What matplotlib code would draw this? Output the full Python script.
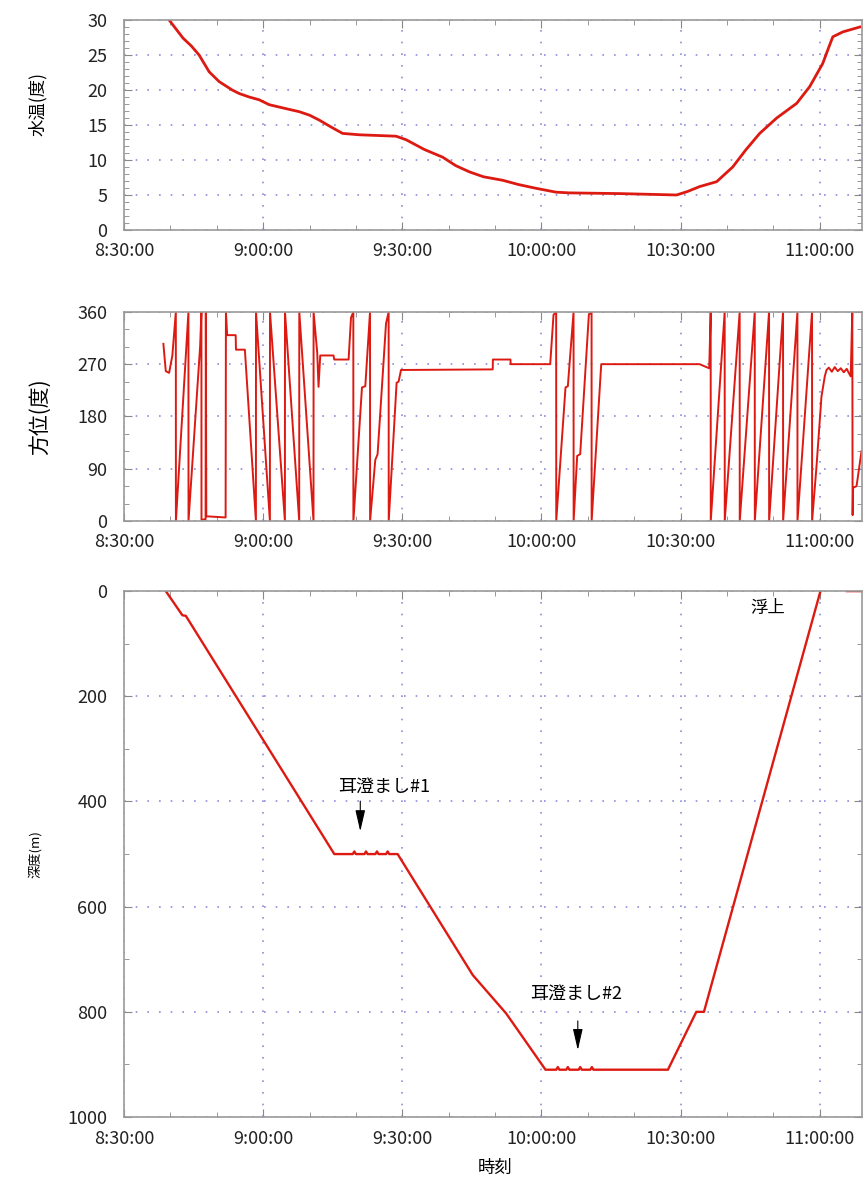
import numpy as np
import pandas as pd
import matplotlib
matplotlib.use("Agg")
import matplotlib.pyplot as plt
import matplotlib.dates as mdates
from matplotlib.ticker import MultipleLocator, FuncFormatter

plt.rcParams['font.family'] = ['Noto Sans CJK JP', 'DejaVu Sans']

# water temperature (deg)
temp_time = ["8:39:43", "8:42:44", "8:44:30", "8:46:11", "8:48:21", "8:50:30", "8:53:19",
             "8:54:49", "8:56:59", "8:59:08", "9:01:18", "9:04:30", "9:07:46", "9:10:00",
             "9:12:05", "9:14:40", "9:17:07", "9:20:43", "9:28:38", "9:30:48", "9:34:45",
             "9:38:42", "9:41:30", "9:44:28", "9:47:30", "9:51:39", "9:55:00", "9:58:51",
             "10:03:10", "10:06:03", "10:16:50", "10:29:08", "10:31:30", "10:34:06",
             "10:37:46", "10:41:14", "10:44:00", "10:47:03", "10:50:43", "10:55:02",
             "10:57:51", "11:00:39", "11:02:00", "11:02:49", "11:04:58", "11:08:38"]
temp_deg = [30, 27.4, 26.3, 25, 22.6, 21.2, 20, 19.5, 19.0, 18.6, 17.9, 17.4, 16.9, 16.4,
            15.7, 14.7, 13.8, 13.6, 13.4, 12.9, 11.5, 10.4, 9.2, 8.3, 7.6, 7.1, 6.5, 5.95,
            5.4, 5.3, 5.2, 5.0, 5.5, 6.2, 6.9, 9.0, 11.4, 13.8, 16.0, 18.1, 20.5, 23.8,
            26.2, 27.6, 28.3, 29.0]

# heading (deg)
hdg_time = ["8:38:29", "8:39:00", "8:39:43", "8:40:25", "8:41:10", "8:41:11", "8:43:53",
            "8:43:54", "8:46:24", "8:46:41", "8:46:42", "8:47:35", "8:47:38", "8:47:44",
            "8:51:54", "8:51:58", "8:52:14", "8:54:04", "8:54:08", "8:56:03", "8:58:26",
            "8:58:27", "9:01:27", "9:01:28", "9:04:41", "9:04:42", "9:07:46", "9:07:47",
            "9:10:51", "9:10:52", "9:11:39", "9:11:56", "9:12:18", "9:15:10", "9:15:19",
            "9:18:25", "9:18:56", "9:19:26", "9:19:27", "9:21:18", "9:22:01", "9:23:02",
            "9:23:03", "9:24:10", "9:24:40", "9:26:29", "9:27:03", "9:27:04", "9:28:46",
            "9:29:12", "9:29:43", "9:49:29", "9:49:32", "9:53:19", "9:53:22", "10:01:53",
            "10:02:36", "10:03:10", "10:03:11", "10:05:11", "10:05:41", "10:06:55",
            "10:06:56", "10:07:42", "10:08:21", "10:10:13", "10:10:48", "10:10:49",
            "10:12:53", "10:34:06", "10:35:33", "10:36:10", "10:36:29", "10:36:30",
            "10:39:30", "10:39:31", "10:42:44", "10:42:45", "10:45:59", "10:46:00",
            "10:49:04", "10:49:05", "10:52:05", "10:52:06", "10:55:11", "10:55:12",
            "10:58:20", "10:58:21", "10:59:18", "11:00:22", "11:01:05", "11:01:27",
            "11:01:57", "11:02:36", "11:03:14", "11:03:53", "11:04:32", "11:05:11",
            "11:05:49", "11:06:15", "11:06:40", "11:07:01", "11:07:05", "11:07:11",
            "11:07:56", "11:09:00"]
hdg_deg = [305, 258, 255, 285, 360, 0, 360, 0, 300, 360, 2, 3, 360, 8,
           6, 360, 320, 320, 295, 295, 0, 360, 0, 360, 0, 360, 0, 360,
           0, 360, 290, 231, 285, 285, 278, 278, 350, 360, 0, 230, 232, 360,
           0, 105, 115, 340, 360, 0, 238, 240, 260, 261, 278, 278, 270, 270,
           355, 360, 0, 230, 232, 360, 0, 112, 115, 355, 360, 0,
           270, 270, 265, 263, 360, 0, 360, 0, 360, 0, 360, 0,
           360, 0, 360, 0, 360, 0, 360, 0, 94, 214, 249, 260,
           264, 257, 265, 258, 263, 256, 262, 255, 249, 360, 10, 57, 60, 120]

# depth (m)
depth_time = ["8:39:00", "8:42:35", "8:43:19", "9:15:20", "9:19:19", "9:19:39", "9:19:59",
              "9:21:50", "9:22:10", "9:22:30", "9:24:12", "9:24:32", "9:24:52", "9:26:30",
              "9:26:50", "9:27:10", "9:28:59", "9:45:11", "9:52:23", "10:00:52", "10:03:11",
              "10:03:31", "10:03:51", "10:05:21", "10:05:41", "10:06:01", "10:08:01",
              "10:08:21", "10:08:41", "10:10:32", "10:10:52", "10:11:12", "10:27:16",
              "10:33:23", "10:35:02", "11:00:09", "11:03:00", "11:05:50", "11:09:04"]
depth_m = [0, 46, 47, 500, 500, 495, 500, 500, 495, 500, 500, 495, 500, 500, 495, 500,
           500, 730, 803, 910, 910, 905, 910, 910, 905, 910, 910, 905, 910, 910, 905, 910,
           910, 800, 800, 0, np.nan, 0, 0]


def to_dt(lst):
    return pd.to_datetime(["2000-01-01 " + s for s in lst])


def t(s):
    return pd.Timestamp("2000-01-01 " + s)


x_start = t("8:30:00")
x_end = t("11:09:05")
red = '#dd1a12'
gridc = '#8c8cdc'


def fmt_time(v, pos):
    d = mdates.num2date(v)
    return "%d:%02d:%02d" % (d.hour, d.minute, d.second)


def style(ax):
    ax.set_xlim(x_start, x_end)
    ax.xaxis.set_major_locator(mdates.MinuteLocator(byminute=[0, 30]))
    ax.xaxis.set_minor_locator(mdates.MinuteLocator(byminute=range(0, 60, 10)))
    ax.xaxis.set_major_formatter(FuncFormatter(fmt_time))
    ax.grid(True, which='major', color=gridc, linestyle=(0, (1, 6)), linewidth=1.2)
    ax.tick_params(which='both', direction='in', top=True, right=True,
                   color='#888888', labelsize=13, labelcolor='#222222')
    ax.tick_params(which='major', length=6, pad=9)
    ax.tick_params(which='minor', length=3.5)
    ax.tick_params(axis='y', pad=12)
    for s in ax.spines.values():
        s.set_color('#9a9a9a')
        s.set_linewidth(1.2)


fig = plt.figure(figsize=(8.65, 11.91), dpi=100)

ax1 = fig.add_axes([0.1434, 0.8069, 0.853, 0.1763])
ax1.plot(to_dt(temp_time), temp_deg, color=red, linewidth=2.0)
ax1.set_ylim(0, 30)
ax1.yaxis.set_major_locator(MultipleLocator(5))
ax1.yaxis.set_minor_locator(MultipleLocator(1))
style(ax1)
fig.text(0.044, 0.913, '水温(度)', rotation=90, ha='center', va='center', fontsize=12.5)

ax2 = fig.add_axes([0.1434, 0.5626, 0.853, 0.1755])
ax2.plot(to_dt(hdg_time), hdg_deg, color=red, linewidth=1.4)
ax2.set_ylim(0, 360)
ax2.yaxis.set_major_locator(MultipleLocator(90))
ax2.yaxis.set_minor_locator(MultipleLocator(30))
style(ax2)
fig.text(0.046, 0.65, '方位(度)', rotation=90, ha='center', va='center', fontsize=15)

ax3 = fig.add_axes([0.1434, 0.0621, 0.853, 0.4416])
ax3.plot(to_dt(depth_time), depth_m, color=red, linewidth=1.7)
ax3.set_ylim(1000, 0)
ax3.yaxis.set_major_locator(MultipleLocator(200))
ax3.yaxis.set_minor_locator(MultipleLocator(100))
style(ax3)
fig.text(0.040, 0.283, '深度(m)', rotation=90, ha='center', va='center', fontsize=9.5)
fig.text(0.572, 0.019, '時刻', ha='center', va='center', fontsize=12.5)

arrow = dict(arrowstyle='-|>,head_length=1.3,head_width=0.3', color='black', linewidth=0.8)
ax3.text(t("9:26:07"), 372, '耳澄まし#1', ha='center', va='center', fontsize=13)
ax3.annotate('', xy=(t("9:20:56"), 462), xytext=(t("9:20:56"), 394), arrowprops=arrow)
ax3.text(t("10:07:29"), 765, '耳澄まし#2', ha='center', va='center', fontsize=13)
ax3.annotate('', xy=(t("10:07:50"), 878), xytext=(t("10:07:50"), 812), arrowprops=arrow)
ax3.text(t("10:48:51"), 33, '浮上', ha='center', va='center', fontsize=12.5)

fig.savefig('out.png', dpi=100)
